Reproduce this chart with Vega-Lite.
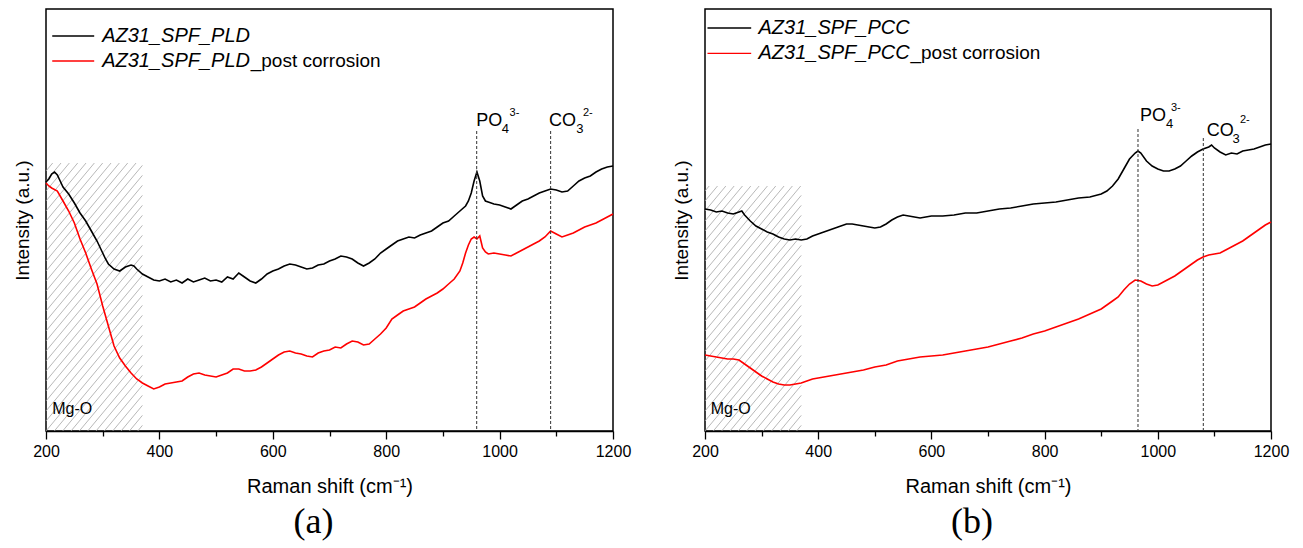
{
  "$schema": "https://vega.github.io/schema/vega-lite/v6.json",
  "background": "white",
  "padding": {"left": 12, "top": 8, "right": 5, "bottom": 0},
  "spacing": 39,
  "config": {
    "view": {"stroke": "#000000", "strokeWidth": 1.5},
    "font": "Liberation Sans"
  },
  "datasets": {
    "spectra_a": [
      {"series":"pristine","wn":200,"intensity":249},{"series":"pristine","wn":205,"intensity":252},{"series":"pristine","wn":210,"intensity":257},{"series":"pristine","wn":215,"intensity":259},{"series":"pristine","wn":220,"intensity":256},{"series":"pristine","wn":225,"intensity":250},{"series":"pristine","wn":230,"intensity":244},{"series":"pristine","wn":240,"intensity":237},{"series":"pristine","wn":250,"intensity":228},{"series":"pristine","wn":260,"intensity":218},{"series":"pristine","wn":270,"intensity":210},{"series":"pristine","wn":280,"intensity":200},{"series":"pristine","wn":290,"intensity":190},{"series":"pristine","wn":300,"intensity":178},{"series":"pristine","wn":305,"intensity":172},{"series":"pristine","wn":310,"intensity":167},{"series":"pristine","wn":320,"intensity":162},{"series":"pristine","wn":330,"intensity":160},{"series":"pristine","wn":340,"intensity":164},{"series":"pristine","wn":350,"intensity":166},{"series":"pristine","wn":355,"intensity":165},{"series":"pristine","wn":360,"intensity":162},{"series":"pristine","wn":370,"intensity":157},{"series":"pristine","wn":380,"intensity":154},{"series":"pristine","wn":390,"intensity":151},{"series":"pristine","wn":400,"intensity":150},{"series":"pristine","wn":410,"intensity":152},{"series":"pristine","wn":420,"intensity":149},{"series":"pristine","wn":430,"intensity":151},{"series":"pristine","wn":440,"intensity":148},{"series":"pristine","wn":450,"intensity":152},{"series":"pristine","wn":460,"intensity":149},{"series":"pristine","wn":470,"intensity":151},{"series":"pristine","wn":480,"intensity":153},{"series":"pristine","wn":490,"intensity":150},{"series":"pristine","wn":500,"intensity":151},{"series":"pristine","wn":510,"intensity":149},{"series":"pristine","wn":520,"intensity":154},{"series":"pristine","wn":530,"intensity":152},{"series":"pristine","wn":540,"intensity":158},{"series":"pristine","wn":550,"intensity":154},{"series":"pristine","wn":560,"intensity":150},{"series":"pristine","wn":570,"intensity":148},{"series":"pristine","wn":580,"intensity":152},{"series":"pristine","wn":590,"intensity":157},{"series":"pristine","wn":600,"intensity":160},{"series":"pristine","wn":610,"intensity":162},{"series":"pristine","wn":620,"intensity":165},{"series":"pristine","wn":630,"intensity":167},{"series":"pristine","wn":640,"intensity":166},{"series":"pristine","wn":650,"intensity":164},{"series":"pristine","wn":660,"intensity":162},{"series":"pristine","wn":670,"intensity":163},{"series":"pristine","wn":680,"intensity":166},{"series":"pristine","wn":690,"intensity":167},{"series":"pristine","wn":700,"intensity":170},{"series":"pristine","wn":710,"intensity":172},{"series":"pristine","wn":720,"intensity":175},{"series":"pristine","wn":730,"intensity":174},{"series":"pristine","wn":740,"intensity":172},{"series":"pristine","wn":750,"intensity":168},{"series":"pristine","wn":760,"intensity":165},{"series":"pristine","wn":770,"intensity":168},{"series":"pristine","wn":780,"intensity":172},{"series":"pristine","wn":790,"intensity":178},{"series":"pristine","wn":800,"intensity":182},{"series":"pristine","wn":810,"intensity":186},{"series":"pristine","wn":820,"intensity":190},{"series":"pristine","wn":830,"intensity":192},{"series":"pristine","wn":840,"intensity":194},{"series":"pristine","wn":850,"intensity":193},{"series":"pristine","wn":860,"intensity":196},{"series":"pristine","wn":870,"intensity":198},{"series":"pristine","wn":880,"intensity":200},{"series":"pristine","wn":890,"intensity":204},{"series":"pristine","wn":900,"intensity":208},{"series":"pristine","wn":910,"intensity":210},{"series":"pristine","wn":920,"intensity":215},{"series":"pristine","wn":930,"intensity":220},{"series":"pristine","wn":940,"intensity":225},{"series":"pristine","wn":945,"intensity":230},{"series":"pristine","wn":950,"intensity":238},{"series":"pristine","wn":955,"intensity":250},{"series":"pristine","wn":960,"intensity":259},{"series":"pristine","wn":965,"intensity":250},{"series":"pristine","wn":970,"intensity":235},{"series":"pristine","wn":975,"intensity":230},{"series":"pristine","wn":980,"intensity":229},{"series":"pristine","wn":990,"intensity":227},{"series":"pristine","wn":1000,"intensity":226},{"series":"pristine","wn":1010,"intensity":224},{"series":"pristine","wn":1020,"intensity":222},{"series":"pristine","wn":1030,"intensity":226},{"series":"pristine","wn":1040,"intensity":230},{"series":"pristine","wn":1050,"intensity":232},{"series":"pristine","wn":1060,"intensity":235},{"series":"pristine","wn":1070,"intensity":238},{"series":"pristine","wn":1080,"intensity":240},{"series":"pristine","wn":1090,"intensity":242},{"series":"pristine","wn":1100,"intensity":241},{"series":"pristine","wn":1110,"intensity":239},{"series":"pristine","wn":1120,"intensity":240},{"series":"pristine","wn":1130,"intensity":245},{"series":"pristine","wn":1140,"intensity":250},{"series":"pristine","wn":1150,"intensity":253},{"series":"pristine","wn":1160,"intensity":255},{"series":"pristine","wn":1170,"intensity":259},{"series":"pristine","wn":1180,"intensity":262},{"series":"pristine","wn":1190,"intensity":264},{"series":"pristine","wn":1200,"intensity":265},
      {"series":"post","wn":200,"intensity":248},{"series":"post","wn":205,"intensity":245},{"series":"post","wn":210,"intensity":243},{"series":"post","wn":220,"intensity":240},{"series":"post","wn":230,"intensity":230},{"series":"post","wn":240,"intensity":220},{"series":"post","wn":250,"intensity":208},{"series":"post","wn":260,"intensity":192},{"series":"post","wn":270,"intensity":178},{"series":"post","wn":280,"intensity":162},{"series":"post","wn":290,"intensity":147},{"series":"post","wn":300,"intensity":125},{"series":"post","wn":310,"intensity":105},{"series":"post","wn":320,"intensity":85},{"series":"post","wn":330,"intensity":73},{"series":"post","wn":340,"intensity":65},{"series":"post","wn":350,"intensity":58},{"series":"post","wn":360,"intensity":52},{"series":"post","wn":370,"intensity":48},{"series":"post","wn":380,"intensity":45},{"series":"post","wn":390,"intensity":42},{"series":"post","wn":400,"intensity":44},{"series":"post","wn":410,"intensity":47},{"series":"post","wn":420,"intensity":48},{"series":"post","wn":430,"intensity":49},{"series":"post","wn":440,"intensity":50},{"series":"post","wn":450,"intensity":54},{"series":"post","wn":460,"intensity":57},{"series":"post","wn":470,"intensity":58},{"series":"post","wn":480,"intensity":56},{"series":"post","wn":490,"intensity":55},{"series":"post","wn":500,"intensity":54},{"series":"post","wn":510,"intensity":56},{"series":"post","wn":520,"intensity":58},{"series":"post","wn":530,"intensity":62},{"series":"post","wn":540,"intensity":62},{"series":"post","wn":550,"intensity":60},{"series":"post","wn":560,"intensity":60},{"series":"post","wn":570,"intensity":61},{"series":"post","wn":580,"intensity":64},{"series":"post","wn":590,"intensity":68},{"series":"post","wn":600,"intensity":72},{"series":"post","wn":610,"intensity":76},{"series":"post","wn":620,"intensity":79},{"series":"post","wn":630,"intensity":80},{"series":"post","wn":640,"intensity":78},{"series":"post","wn":650,"intensity":77},{"series":"post","wn":660,"intensity":75},{"series":"post","wn":670,"intensity":74},{"series":"post","wn":680,"intensity":78},{"series":"post","wn":690,"intensity":80},{"series":"post","wn":700,"intensity":81},{"series":"post","wn":710,"intensity":84},{"series":"post","wn":720,"intensity":83},{"series":"post","wn":730,"intensity":87},{"series":"post","wn":740,"intensity":90},{"series":"post","wn":750,"intensity":89},{"series":"post","wn":760,"intensity":86},{"series":"post","wn":770,"intensity":87},{"series":"post","wn":780,"intensity":92},{"series":"post","wn":790,"intensity":97},{"series":"post","wn":800,"intensity":103},{"series":"post","wn":810,"intensity":112},{"series":"post","wn":820,"intensity":116},{"series":"post","wn":830,"intensity":120},{"series":"post","wn":840,"intensity":122},{"series":"post","wn":850,"intensity":124},{"series":"post","wn":860,"intensity":128},{"series":"post","wn":870,"intensity":132},{"series":"post","wn":880,"intensity":135},{"series":"post","wn":890,"intensity":138},{"series":"post","wn":900,"intensity":142},{"series":"post","wn":910,"intensity":147},{"series":"post","wn":920,"intensity":152},{"series":"post","wn":930,"intensity":160},{"series":"post","wn":935,"intensity":168},{"series":"post","wn":940,"intensity":178},{"series":"post","wn":945,"intensity":186},{"series":"post","wn":950,"intensity":192},{"series":"post","wn":955,"intensity":194},{"series":"post","wn":960,"intensity":192},{"series":"post","wn":965,"intensity":195},{"series":"post","wn":970,"intensity":183},{"series":"post","wn":975,"intensity":179},{"series":"post","wn":980,"intensity":177},{"series":"post","wn":990,"intensity":178},{"series":"post","wn":1000,"intensity":177},{"series":"post","wn":1010,"intensity":176},{"series":"post","wn":1020,"intensity":175},{"series":"post","wn":1030,"intensity":178},{"series":"post","wn":1040,"intensity":181},{"series":"post","wn":1050,"intensity":184},{"series":"post","wn":1060,"intensity":187},{"series":"post","wn":1070,"intensity":190},{"series":"post","wn":1080,"intensity":194},{"series":"post","wn":1090,"intensity":200},{"series":"post","wn":1100,"intensity":197},{"series":"post","wn":1110,"intensity":194},{"series":"post","wn":1120,"intensity":196},{"series":"post","wn":1130,"intensity":198},{"series":"post","wn":1140,"intensity":201},{"series":"post","wn":1150,"intensity":204},{"series":"post","wn":1160,"intensity":206},{"series":"post","wn":1170,"intensity":208},{"series":"post","wn":1180,"intensity":211},{"series":"post","wn":1190,"intensity":214},{"series":"post","wn":1200,"intensity":217}
    ],
    "spectra_b": [
      {"series":"pristine","wn":200,"intensity":222},{"series":"pristine","wn":210,"intensity":221},{"series":"pristine","wn":220,"intensity":219},{"series":"pristine","wn":230,"intensity":220},{"series":"pristine","wn":240,"intensity":218},{"series":"pristine","wn":250,"intensity":217},{"series":"pristine","wn":260,"intensity":219},{"series":"pristine","wn":265,"intensity":220},{"series":"pristine","wn":270,"intensity":216},{"series":"pristine","wn":280,"intensity":210},{"series":"pristine","wn":290,"intensity":205},{"series":"pristine","wn":300,"intensity":202},{"series":"pristine","wn":310,"intensity":199},{"series":"pristine","wn":320,"intensity":197},{"series":"pristine","wn":330,"intensity":194},{"series":"pristine","wn":340,"intensity":192},{"series":"pristine","wn":350,"intensity":191},{"series":"pristine","wn":360,"intensity":192},{"series":"pristine","wn":370,"intensity":191},{"series":"pristine","wn":380,"intensity":192},{"series":"pristine","wn":390,"intensity":195},{"series":"pristine","wn":400,"intensity":197},{"series":"pristine","wn":410,"intensity":199},{"series":"pristine","wn":420,"intensity":201},{"series":"pristine","wn":430,"intensity":203},{"series":"pristine","wn":440,"intensity":205},{"series":"pristine","wn":450,"intensity":207},{"series":"pristine","wn":460,"intensity":207},{"series":"pristine","wn":470,"intensity":206},{"series":"pristine","wn":480,"intensity":205},{"series":"pristine","wn":490,"intensity":204},{"series":"pristine","wn":500,"intensity":203},{"series":"pristine","wn":510,"intensity":204},{"series":"pristine","wn":520,"intensity":207},{"series":"pristine","wn":530,"intensity":211},{"series":"pristine","wn":540,"intensity":214},{"series":"pristine","wn":550,"intensity":216},{"series":"pristine","wn":560,"intensity":215},{"series":"pristine","wn":570,"intensity":214},{"series":"pristine","wn":580,"intensity":213},{"series":"pristine","wn":590,"intensity":214},{"series":"pristine","wn":600,"intensity":215},{"series":"pristine","wn":620,"intensity":215},{"series":"pristine","wn":640,"intensity":216},{"series":"pristine","wn":660,"intensity":218},{"series":"pristine","wn":680,"intensity":218},{"series":"pristine","wn":700,"intensity":220},{"series":"pristine","wn":720,"intensity":222},{"series":"pristine","wn":740,"intensity":223},{"series":"pristine","wn":760,"intensity":225},{"series":"pristine","wn":780,"intensity":227},{"series":"pristine","wn":800,"intensity":228},{"series":"pristine","wn":820,"intensity":229},{"series":"pristine","wn":840,"intensity":231},{"series":"pristine","wn":860,"intensity":233},{"series":"pristine","wn":880,"intensity":234},{"series":"pristine","wn":900,"intensity":237},{"series":"pristine","wn":910,"intensity":240},{"series":"pristine","wn":920,"intensity":245},{"series":"pristine","wn":930,"intensity":252},{"series":"pristine","wn":940,"intensity":262},{"series":"pristine","wn":950,"intensity":272},{"series":"pristine","wn":960,"intensity":278},{"series":"pristine","wn":965,"intensity":280},{"series":"pristine","wn":970,"intensity":278},{"series":"pristine","wn":980,"intensity":270},{"series":"pristine","wn":990,"intensity":265},{"series":"pristine","wn":1000,"intensity":262},{"series":"pristine","wn":1010,"intensity":260},{"series":"pristine","wn":1020,"intensity":260},{"series":"pristine","wn":1030,"intensity":262},{"series":"pristine","wn":1040,"intensity":265},{"series":"pristine","wn":1050,"intensity":270},{"series":"pristine","wn":1060,"intensity":275},{"series":"pristine","wn":1070,"intensity":279},{"series":"pristine","wn":1080,"intensity":282},{"series":"pristine","wn":1090,"intensity":284},{"series":"pristine","wn":1095,"intensity":286},{"series":"pristine","wn":1100,"intensity":283},{"series":"pristine","wn":1110,"intensity":279},{"series":"pristine","wn":1120,"intensity":276},{"series":"pristine","wn":1130,"intensity":278},{"series":"pristine","wn":1140,"intensity":277},{"series":"pristine","wn":1150,"intensity":280},{"series":"pristine","wn":1160,"intensity":281},{"series":"pristine","wn":1170,"intensity":282},{"series":"pristine","wn":1180,"intensity":284},{"series":"pristine","wn":1190,"intensity":286},{"series":"pristine","wn":1200,"intensity":287},
      {"series":"post","wn":200,"intensity":76},{"series":"post","wn":210,"intensity":75},{"series":"post","wn":220,"intensity":74},{"series":"post","wn":230,"intensity":73},{"series":"post","wn":240,"intensity":72},{"series":"post","wn":250,"intensity":72},{"series":"post","wn":260,"intensity":71},{"series":"post","wn":270,"intensity":67},{"series":"post","wn":280,"intensity":63},{"series":"post","wn":290,"intensity":59},{"series":"post","wn":300,"intensity":55},{"series":"post","wn":310,"intensity":52},{"series":"post","wn":320,"intensity":49},{"series":"post","wn":330,"intensity":47},{"series":"post","wn":340,"intensity":46},{"series":"post","wn":350,"intensity":46},{"series":"post","wn":360,"intensity":47},{"series":"post","wn":370,"intensity":48},{"series":"post","wn":380,"intensity":50},{"series":"post","wn":390,"intensity":52},{"series":"post","wn":400,"intensity":53},{"series":"post","wn":420,"intensity":55},{"series":"post","wn":440,"intensity":57},{"series":"post","wn":460,"intensity":59},{"series":"post","wn":480,"intensity":61},{"series":"post","wn":500,"intensity":64},{"series":"post","wn":520,"intensity":66},{"series":"post","wn":540,"intensity":70},{"series":"post","wn":560,"intensity":72},{"series":"post","wn":580,"intensity":74},{"series":"post","wn":600,"intensity":75},{"series":"post","wn":620,"intensity":76},{"series":"post","wn":640,"intensity":78},{"series":"post","wn":660,"intensity":80},{"series":"post","wn":680,"intensity":82},{"series":"post","wn":700,"intensity":84},{"series":"post","wn":720,"intensity":87},{"series":"post","wn":740,"intensity":90},{"series":"post","wn":760,"intensity":93},{"series":"post","wn":780,"intensity":97},{"series":"post","wn":800,"intensity":100},{"series":"post","wn":820,"intensity":104},{"series":"post","wn":840,"intensity":108},{"series":"post","wn":860,"intensity":112},{"series":"post","wn":880,"intensity":117},{"series":"post","wn":900,"intensity":122},{"series":"post","wn":910,"intensity":126},{"series":"post","wn":920,"intensity":130},{"series":"post","wn":930,"intensity":134},{"series":"post","wn":940,"intensity":141},{"series":"post","wn":950,"intensity":147},{"series":"post","wn":960,"intensity":151},{"series":"post","wn":970,"intensity":150},{"series":"post","wn":980,"intensity":147},{"series":"post","wn":990,"intensity":145},{"series":"post","wn":1000,"intensity":146},{"series":"post","wn":1010,"intensity":149},{"series":"post","wn":1020,"intensity":152},{"series":"post","wn":1030,"intensity":155},{"series":"post","wn":1040,"intensity":159},{"series":"post","wn":1050,"intensity":163},{"series":"post","wn":1060,"intensity":167},{"series":"post","wn":1070,"intensity":171},{"series":"post","wn":1080,"intensity":174},{"series":"post","wn":1090,"intensity":176},{"series":"post","wn":1100,"intensity":177},{"series":"post","wn":1110,"intensity":178},{"series":"post","wn":1120,"intensity":181},{"series":"post","wn":1130,"intensity":184},{"series":"post","wn":1140,"intensity":187},{"series":"post","wn":1150,"intensity":190},{"series":"post","wn":1160,"intensity":194},{"series":"post","wn":1170,"intensity":198},{"series":"post","wn":1180,"intensity":202},{"series":"post","wn":1190,"intensity":206},{"series":"post","wn":1200,"intensity":209}
    ],
    "hatch_a": [
      {"wn":361.8,"intensity":0,"wn2":370,"intensity2":5.6},{"wn":347.1,"intensity":0,"wn2":370,"intensity2":15.6},{"wn":332.4,"intensity":0,"wn2":370,"intensity2":25.6},{"wn":317.6,"intensity":0,"wn2":370,"intensity2":35.6},{"wn":302.9,"intensity":0,"wn2":370,"intensity2":45.6},{"wn":288.2,"intensity":0,"wn2":370,"intensity2":55.6},{"wn":273.5,"intensity":0,"wn2":370,"intensity2":65.6},{"wn":258.8,"intensity":0,"wn2":370,"intensity2":75.6},{"wn":244.1,"intensity":0,"wn2":370,"intensity2":85.6},{"wn":229.4,"intensity":0,"wn2":370,"intensity2":95.6},{"wn":214.7,"intensity":0,"wn2":370,"intensity2":105.6},
      {"wn":200,"intensity":0,"wn2":370,"intensity2":115.6},{"wn":200,"intensity":10,"wn2":370,"intensity2":125.6},{"wn":200,"intensity":20,"wn2":370,"intensity2":135.6},{"wn":200,"intensity":30,"wn2":370,"intensity2":145.6},{"wn":200,"intensity":40,"wn2":370,"intensity2":155.6},{"wn":200,"intensity":50,"wn2":370,"intensity2":165.6},{"wn":200,"intensity":60,"wn2":370,"intensity2":175.6},{"wn":200,"intensity":70,"wn2":370,"intensity2":185.6},{"wn":200,"intensity":80,"wn2":370,"intensity2":195.6},{"wn":200,"intensity":90,"wn2":370,"intensity2":205.6},{"wn":200,"intensity":100,"wn2":370,"intensity2":215.6},{"wn":200,"intensity":110,"wn2":370,"intensity2":225.6},{"wn":200,"intensity":120,"wn2":370,"intensity2":235.6},{"wn":200,"intensity":130,"wn2":370,"intensity2":245.6},{"wn":200,"intensity":140,"wn2":370,"intensity2":255.6},{"wn":200,"intensity":150,"wn2":370,"intensity2":265.6},
      {"wn":200,"intensity":160,"wn2":358.8,"intensity2":268},{"wn":200,"intensity":170,"wn2":344.1,"intensity2":268},{"wn":200,"intensity":180,"wn2":329.4,"intensity2":268},{"wn":200,"intensity":190,"wn2":314.7,"intensity2":268},{"wn":200,"intensity":200,"wn2":300,"intensity2":268},{"wn":200,"intensity":210,"wn2":285.3,"intensity2":268},{"wn":200,"intensity":220,"wn2":270.6,"intensity2":268},{"wn":200,"intensity":230,"wn2":255.9,"intensity2":268},{"wn":200,"intensity":240,"wn2":241.2,"intensity2":268},{"wn":200,"intensity":250,"wn2":226.5,"intensity2":268},{"wn":200,"intensity":260,"wn2":211.8,"intensity2":268}
    ],
    "hatch_b": [
      {"wn":361.8,"intensity":0,"wn2":370,"intensity2":5.6},{"wn":347.1,"intensity":0,"wn2":370,"intensity2":15.6},{"wn":332.4,"intensity":0,"wn2":370,"intensity2":25.6},{"wn":317.6,"intensity":0,"wn2":370,"intensity2":35.6},{"wn":302.9,"intensity":0,"wn2":370,"intensity2":45.6},{"wn":288.2,"intensity":0,"wn2":370,"intensity2":55.6},{"wn":273.5,"intensity":0,"wn2":370,"intensity2":65.6},{"wn":258.8,"intensity":0,"wn2":370,"intensity2":75.6},{"wn":244.1,"intensity":0,"wn2":370,"intensity2":85.6},{"wn":229.4,"intensity":0,"wn2":370,"intensity2":95.6},{"wn":214.7,"intensity":0,"wn2":370,"intensity2":105.6},
      {"wn":200,"intensity":0,"wn2":370,"intensity2":115.6},{"wn":200,"intensity":10,"wn2":370,"intensity2":125.6},{"wn":200,"intensity":20,"wn2":370,"intensity2":135.6},{"wn":200,"intensity":30,"wn2":370,"intensity2":145.6},{"wn":200,"intensity":40,"wn2":370,"intensity2":155.6},{"wn":200,"intensity":50,"wn2":370,"intensity2":165.6},{"wn":200,"intensity":60,"wn2":370,"intensity2":175.6},{"wn":200,"intensity":70,"wn2":370,"intensity2":185.6},{"wn":200,"intensity":80,"wn2":370,"intensity2":195.6},{"wn":200,"intensity":90,"wn2":370,"intensity2":205.6},{"wn":200,"intensity":100,"wn2":370,"intensity2":215.6},{"wn":200,"intensity":110,"wn2":370,"intensity2":225.6},{"wn":200,"intensity":120,"wn2":370,"intensity2":235.6},
      {"wn":200,"intensity":130,"wn2":369.1,"intensity2":245},{"wn":200,"intensity":140,"wn2":354.4,"intensity2":245},{"wn":200,"intensity":150,"wn2":339.7,"intensity2":245},{"wn":200,"intensity":160,"wn2":325,"intensity2":245},{"wn":200,"intensity":170,"wn2":310.3,"intensity2":245},{"wn":200,"intensity":180,"wn2":295.6,"intensity2":245},{"wn":200,"intensity":190,"wn2":280.9,"intensity2":245},{"wn":200,"intensity":200,"wn2":266.2,"intensity2":245},{"wn":200,"intensity":210,"wn2":251.5,"intensity2":245},{"wn":200,"intensity":220,"wn2":236.8,"intensity2":245},{"wn":200,"intensity":230,"wn2":222.1,"intensity2":245},{"wn":200,"intensity":240,"wn2":207.4,"intensity2":245}
    ],
    "peaks_a": [{"wn":959.6,"intensity":300},{"wn":1090,"intensity":300}],
    "peaks_b": [{"wn":965,"intensity":302},{"wn":1080.4,"intensity":293}],
    "legend_a": [{"series":"pristine","wn":211,"wn2":285,"intensity":395},{"series":"post","wn":211,"wn2":285,"intensity":370}],
    "legend_b": [{"series":"pristine","wn":204.4,"wn2":281.6,"intensity":403},{"series":"post","wn":204.4,"wn2":281.6,"intensity":377.6}],
    "labels_a": [
      {"part":"main","text":"PO","wn":959,"intensity":305},
      {"part":"sub","text":"4","wn":1004,"intensity":298},
      {"part":"sup","text":"3-","wn":1017.5,"intensity":315},
      {"part":"main","text":"CO","wn":1087,"intensity":305},
      {"part":"sub","text":"3","wn":1135,"intensity":298},
      {"part":"sup","text":"2-","wn":1147,"intensity":315},
      {"part":"region","text":"Mg-O","wn":211,"intensity":22},
      {"part":"name","text":"AZ31_SPF_PLD","wn":299,"intensity":395},
      {"part":"name","text":"AZ31_SPF_PLD","wn":299,"intensity":370},
      {"part":"suffix","text":"_post corrosion","wn":561,"intensity":370}
    ],
    "labels_b": [
      {"part":"main","text":"PO","wn":968.6,"intensity":310},
      {"part":"sub","text":"4","wn":1014.5,"intensity":303},
      {"part":"sup","text":"3-","wn":1023.3,"intensity":320},
      {"part":"main","text":"CO","wn":1086.4,"intensity":295},
      {"part":"sub","text":"3","wn":1132,"intensity":288},
      {"part":"sup","text":"2-","wn":1145.2,"intensity":308},
      {"part":"region","text":"Mg-O","wn":210,"intensity":22},
      {"part":"name","text":"AZ31_SPF_PCC","wn":294.5,"intensity":403},
      {"part":"name","text":"AZ31_SPF_PCC","wn":294.5,"intensity":377.6},
      {"part":"suffix","text":"_post corrosion","wn":563,"intensity":377.6}
    ]
  },
  "hconcat": [
    {
      "width": 567,
      "height": 422,
      "title": {"text": "(a)", "orient": "bottom", "font": "Liberation Serif", "fontSize": 36, "fontWeight": "normal", "color": "#000000", "dx": -16, "offset": 9},
      "encoding": {
        "x": {"field": "wn", "type": "quantitative", "scale": {"domain": [200, 1200], "nice": false, "zero": false},
          "axis": {"title": "Raman shift (cm⁻¹)", "values": [200,300,400,500,600,700,800,900,1000,1100,1200], "format": "d",
            "labelExpr": "datum.value % 200 === 0 ? datum.label : ''",
            "tickSize": {"condition": {"test": "datum.value % 200 === 0", "value": 8}, "value": 5},
            "grid": false, "domainColor": "#000000", "domainWidth": 1.5, "tickColor": "#000000", "tickWidth": 1.3,
            "labelFont": "Liberation Sans", "labelFontSize": 16, "labelColor": "#000000", "labelPadding": 4, "labelFlush": false, "labelOverlap": false,
            "titleFont": "Liberation Sans", "titleFontSize": 20, "titleFontWeight": "normal", "titleColor": "#000000", "titlePadding": 17}},
        "y": {"field": "intensity", "type": "quantitative", "scale": {"domain": [0, 422], "nice": false, "zero": false},
          "axis": {"title": "Intensity (a.u.)", "labels": false, "ticks": false, "domain": false, "grid": false,
            "titleFont": "Liberation Sans", "titleFontSize": 19, "titleFontWeight": "normal", "titleColor": "#000000", "titlePadding": 14}}
      },
      "layer": [
        {"data": {"name": "hatch_a"}, "mark": {"type": "rule", "color": "#a6a6a6", "strokeWidth": 0.8},
          "encoding": {"x2": {"field": "wn2"}, "y2": {"field": "intensity2"}}},
        {"data": {"name": "spectra_a"}, "mark": {"type": "line", "strokeWidth": 1.6},
          "encoding": {"color": {"field": "series", "type": "nominal", "scale": {"domain": ["pristine", "post"], "range": ["#000000", "#ff0000"]}, "legend": null}}},
        {"data": {"name": "peaks_a"}, "mark": {"type": "rule", "color": "#333333", "strokeWidth": 1, "strokeDash": [3, 2]},
          "encoding": {"y2": {"datum": 0}}},
        {"data": {"name": "legend_a"}, "mark": {"type": "rule", "strokeWidth": 1.3},
          "encoding": {"x2": {"field": "wn2"}, "color": {"field": "series", "type": "nominal", "scale": {"domain": ["pristine", "post"], "range": ["#000000", "#ff0000"]}, "legend": null}}},
        {"data": {"name": "labels_a"}, "transform": [{"filter": "datum.part === 'main'"}],
          "mark": {"type": "text", "align": "left", "baseline": "alphabetic", "font": "Liberation Sans", "fontSize": 18, "color": "#000000"},
          "encoding": {"text": {"field": "text"}}},
        {"data": {"name": "labels_a"}, "transform": [{"filter": "datum.part === 'sub'"}],
          "mark": {"type": "text", "align": "left", "baseline": "alphabetic", "font": "Liberation Sans", "fontSize": 13, "color": "#000000"},
          "encoding": {"text": {"field": "text"}}},
        {"data": {"name": "labels_a"}, "transform": [{"filter": "datum.part === 'sup'"}],
          "mark": {"type": "text", "align": "left", "baseline": "alphabetic", "font": "Liberation Sans", "fontSize": 11, "color": "#000000"},
          "encoding": {"text": {"field": "text"}}},
        {"data": {"name": "labels_a"}, "transform": [{"filter": "datum.part === 'region'"}],
          "mark": {"type": "text", "align": "left", "baseline": "middle", "font": "Liberation Sans", "fontSize": 16, "color": "#000000"},
          "encoding": {"text": {"field": "text"}}},
        {"data": {"name": "labels_a"}, "transform": [{"filter": "datum.part === 'name'"}],
          "mark": {"type": "text", "align": "left", "baseline": "middle", "font": "Liberation Sans", "fontSize": 20, "fontStyle": "italic", "color": "#000000"},
          "encoding": {"text": {"field": "text"}}},
        {"data": {"name": "labels_a"}, "transform": [{"filter": "datum.part === 'suffix'"}],
          "mark": {"type": "text", "align": "left", "baseline": "middle", "font": "Liberation Sans", "fontSize": 19, "color": "#000000"},
          "encoding": {"text": {"field": "text"}}}
      ]
    },
    {
      "width": 566,
      "height": 422,
      "title": {"text": "(b)", "orient": "bottom", "font": "Liberation Serif", "fontSize": 36, "fontWeight": "normal", "color": "#000000", "dx": -16, "offset": 9},
      "encoding": {
        "x": {"field": "wn", "type": "quantitative", "scale": {"domain": [200, 1200], "nice": false, "zero": false},
          "axis": {"title": "Raman shift (cm⁻¹)", "values": [200,300,400,500,600,700,800,900,1000,1100,1200], "format": "d",
            "labelExpr": "datum.value % 200 === 0 ? datum.label : ''",
            "tickSize": {"condition": {"test": "datum.value % 200 === 0", "value": 8}, "value": 5},
            "grid": false, "domainColor": "#000000", "domainWidth": 1.5, "tickColor": "#000000", "tickWidth": 1.3,
            "labelFont": "Liberation Sans", "labelFontSize": 16, "labelColor": "#000000", "labelPadding": 4, "labelFlush": false, "labelOverlap": false,
            "titleFont": "Liberation Sans", "titleFontSize": 20, "titleFontWeight": "normal", "titleColor": "#000000", "titlePadding": 17}},
        "y": {"field": "intensity", "type": "quantitative", "scale": {"domain": [0, 422], "nice": false, "zero": false},
          "axis": {"title": "Intensity (a.u.)", "labels": false, "ticks": false, "domain": false, "grid": false,
            "titleFont": "Liberation Sans", "titleFontSize": 19, "titleFontWeight": "normal", "titleColor": "#000000", "titlePadding": 14}}
      },
      "layer": [
        {"data": {"name": "hatch_b"}, "mark": {"type": "rule", "color": "#a6a6a6", "strokeWidth": 0.8},
          "encoding": {"x2": {"field": "wn2"}, "y2": {"field": "intensity2"}}},
        {"data": {"name": "spectra_b"}, "mark": {"type": "line", "strokeWidth": 1.6},
          "encoding": {"color": {"field": "series", "type": "nominal", "scale": {"domain": ["pristine", "post"], "range": ["#000000", "#ff0000"]}, "legend": null}}},
        {"data": {"name": "peaks_b"}, "mark": {"type": "rule", "color": "#333333", "strokeWidth": 1, "strokeDash": [3, 2]},
          "encoding": {"y2": {"datum": 0}}},
        {"data": {"name": "legend_b"}, "mark": {"type": "rule", "strokeWidth": 1.3},
          "encoding": {"x2": {"field": "wn2"}, "color": {"field": "series", "type": "nominal", "scale": {"domain": ["pristine", "post"], "range": ["#000000", "#ff0000"]}, "legend": null}}},
        {"data": {"name": "labels_b"}, "transform": [{"filter": "datum.part === 'main'"}],
          "mark": {"type": "text", "align": "left", "baseline": "alphabetic", "font": "Liberation Sans", "fontSize": 18, "color": "#000000"},
          "encoding": {"text": {"field": "text"}}},
        {"data": {"name": "labels_b"}, "transform": [{"filter": "datum.part === 'sub'"}],
          "mark": {"type": "text", "align": "left", "baseline": "alphabetic", "font": "Liberation Sans", "fontSize": 13, "color": "#000000"},
          "encoding": {"text": {"field": "text"}}},
        {"data": {"name": "labels_b"}, "transform": [{"filter": "datum.part === 'sup'"}],
          "mark": {"type": "text", "align": "left", "baseline": "alphabetic", "font": "Liberation Sans", "fontSize": 11, "color": "#000000"},
          "encoding": {"text": {"field": "text"}}},
        {"data": {"name": "labels_b"}, "transform": [{"filter": "datum.part === 'region'"}],
          "mark": {"type": "text", "align": "left", "baseline": "middle", "font": "Liberation Sans", "fontSize": 16, "color": "#000000"},
          "encoding": {"text": {"field": "text"}}},
        {"data": {"name": "labels_b"}, "transform": [{"filter": "datum.part === 'name'"}],
          "mark": {"type": "text", "align": "left", "baseline": "middle", "font": "Liberation Sans", "fontSize": 20, "fontStyle": "italic", "color": "#000000"},
          "encoding": {"text": {"field": "text"}}},
        {"data": {"name": "labels_b"}, "transform": [{"filter": "datum.part === 'suffix'"}],
          "mark": {"type": "text", "align": "left", "baseline": "middle", "font": "Liberation Sans", "fontSize": 19, "color": "#000000"},
          "encoding": {"text": {"field": "text"}}}
      ]
    }
  ]
}
